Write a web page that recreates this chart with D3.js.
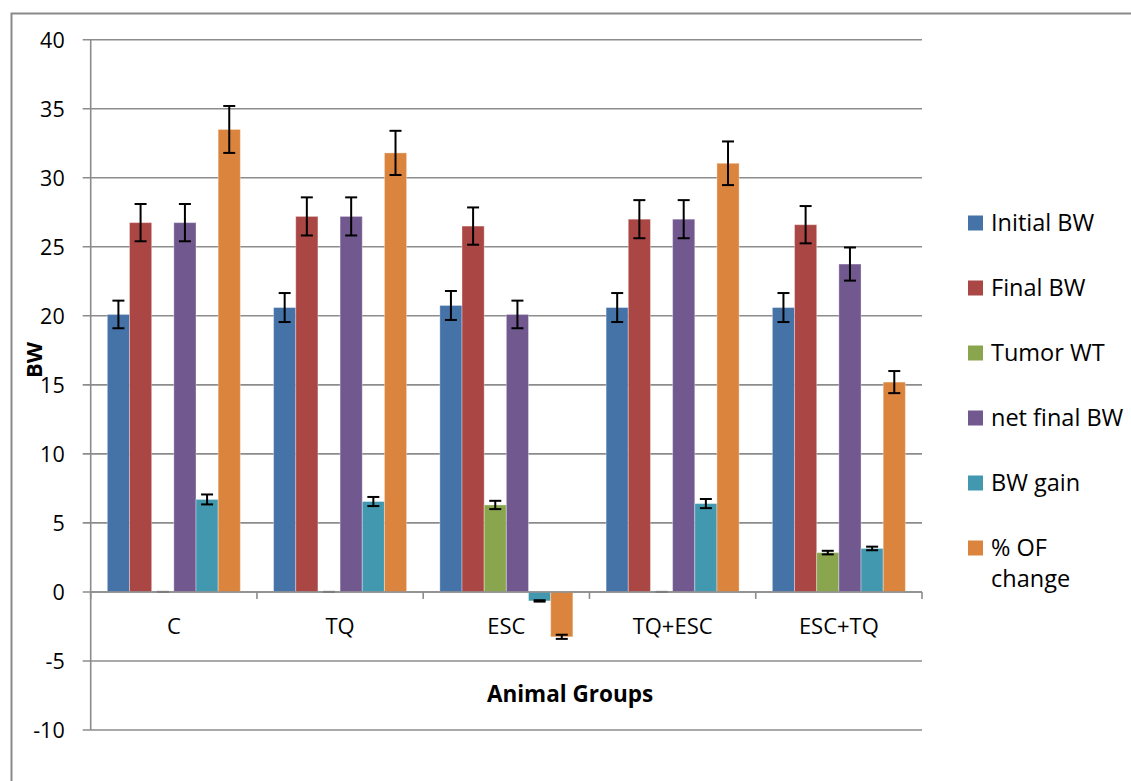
<!DOCTYPE html>
<html><head><meta charset="utf-8">
<script src="https://cdn.jsdelivr.net/npm/d3@7"></script>
<style>body{margin:0;background:#fff;} svg{display:block;}</style>
</head><body>
<svg id="chart" width="1131" height="781"></svg>
<script>
const categories = ["C", "TQ", "ESC", "TQ+ESC", "ESC+TQ"];
const seriesNames = ["Initial BW", "Final BW", "Tumor WT", "net final BW", "BW gain", "% OF change"];
const seriesColors = ["#4572A7", "#AA4643", "#89A54E", "#71588F", "#4198AF", "#DB843D"];
const initialBW  = [20.1, 20.6, 20.75, 20.6, 20.6];
const finalBW    = [26.75, 27.2, 26.5, 27.0, 26.6];
const tumorWT    = [0, 0, 6.3, 0, 2.85];
const netFinalBW = [26.75, 27.2, 20.1, 27.0, 23.75];
const bwGain     = [6.7, 6.55, -0.65, 6.4, 3.15];
const pctChange  = [33.5, 31.8, -3.25, 31.05, 15.2];
const initialErr  = [1.0, 1.05, 1.05, 1.05, 1.05];
const finalErr    = [1.35, 1.38, 1.35, 1.38, 1.35];
const tumorErr    = [0, 0, 0.3, 0, 0.13];
const netFinalErr = [1.35, 1.38, 1.0, 1.38, 1.2];
const bwGainErr   = [0.36, 0.33, 0.05, 0.33, 0.13];
const pctErr      = [1.7, 1.6, 0.15, 1.58, 0.8];
const yTicks = [-10, -5, 0, 5, 10, 15, 20, 25, 30, 35, 40];

const values = [initialBW, finalBW, tumorWT, netFinalBW, bwGain, pctChange];
const errors = [initialErr, finalErr, tumorErr, netFinalErr, bwGainErr, pctErr];

const svg = d3.select("#chart");
const FONT = "'Open Sans', sans-serif";
const gridColor = "#8c8c8c";

// outer chart border (cropped at right/bottom)
svg.append("path").attr("d", "M11.5,781 L11.5,13.5 L1131,13.5")
  .attr("fill", "none").attr("stroke", "#8a8a8a").attr("stroke-width", 2);

const pL = 90.7, pR = 922, pT = 39.7, pB = 730;
const y = d3.scaleLinear().domain([-10, 40]).range([pB, pT]);
const x0 = d3.scaleBand().domain(categories).range([pL, pR]).padding(0);
const x1 = d3.scaleBand().domain(seriesNames).range([0, x0.bandwidth()]).paddingInner(0).paddingOuter(0.75);

// gridlines
svg.append("g").selectAll("line").data(yTicks).join("line")
  .attr("x1", pL - 8).attr("x2", pR)
  .attr("y1", d => y(d)).attr("y2", d => y(d))
  .attr("stroke", gridColor).attr("stroke-width", 1.6);

// y axis
const yAxis = d3.axisLeft(y).tickValues(yTicks).tickSize(0).tickPadding(0).tickFormat(d => String(d));
const gy = svg.append("g").attr("transform", `translate(${pL},0)`).call(yAxis);
gy.select(".domain").remove();
gy.selectAll("text").attr("x", -26).attr("dy", "0.36em")
  .style("font-family", FONT).style("font-size", "21.5px").attr("fill", "#000");
svg.append("line").attr("x1", pL).attr("x2", pL).attr("y1", pT).attr("y2", pB)
  .attr("stroke", gridColor).attr("stroke-width", 1.6);

// bars
const groups = svg.append("g").selectAll("g").data(categories).join("g")
  .attr("transform", d => `translate(${x0(d)},0)`);
const barData = (c, ci) => seriesNames.map((s, si) => ({s, si, v: values[si][ci], e: errors[si][ci]}));
groups.each(function(c, ci) {
  const g = d3.select(this);
  const data = barData(c, ci);
  g.selectAll("rect").data(data.filter(d => d.v !== 0)).join("rect")
    .attr("x", d => x1(d.s))
    .attr("width", x1.bandwidth())
    .attr("y", d => Math.min(y(d.v), y(0)))
    .attr("height", d => Math.abs(y(d.v) - y(0)))
    .attr("fill", d => seriesColors[d.si])
    .attr("stroke", "rgba(255,255,255,0.35)").attr("stroke-width", 1);
});

// x axis line & ticks
svg.append("line").attr("x1", pL).attr("x2", pR).attr("y1", y(0)).attr("y2", y(0))
  .attr("stroke", gridColor).attr("stroke-width", 1.6);
const boundaries = categories.map(c => x0(c)).concat([pR]);
svg.append("g").selectAll("line").data(boundaries).join("line")
  .attr("x1", d => d).attr("x2", d => d).attr("y1", y(0)).attr("y2", y(0) + 7)
  .attr("stroke", gridColor).attr("stroke-width", 1.6);

// error bars
groups.each(function(c, ci) {
  const g = d3.select(this);
  const data = barData(c, ci);
  const cap = 6;
  const eb = g.append("g").selectAll("g").data(data).join("g")
    .attr("stroke", d => d.v === 0 ? "#555" : "#000").attr("stroke-width", 2);
  eb.append("line")
    .attr("x1", d => x1(d.s) + x1.bandwidth() / 2).attr("x2", d => x1(d.s) + x1.bandwidth() / 2)
    .attr("y1", d => y(d.v + d.e)).attr("y2", d => y(d.v - d.e));
  eb.append("line")
    .attr("x1", d => x1(d.s) + x1.bandwidth() / 2 - cap).attr("x2", d => x1(d.s) + x1.bandwidth() / 2 + cap)
    .attr("y1", d => y(d.v + d.e)).attr("y2", d => y(d.v + d.e));
  eb.append("line")
    .attr("x1", d => x1(d.s) + x1.bandwidth() / 2 - cap).attr("x2", d => x1(d.s) + x1.bandwidth() / 2 + cap)
    .attr("y1", d => y(d.v - d.e)).attr("y2", d => y(d.v - d.e));
});

// category labels
svg.append("g").selectAll("text").data(categories).join("text")
  .attr("x", d => x0(d) + x0.bandwidth() / 2).attr("y", 634)
  .attr("text-anchor", "middle")
  .style("font-family", FONT).style("font-size", "22px").text(d => d);

// axis titles
svg.append("text").attr("x", 570).attr("y", 702).attr("text-anchor", "middle")
  .style("font-family", FONT).style("font-size", "22.5px").style("font-weight", "bold").text("Animal Groups");
svg.append("text").attr("transform", "translate(42,360) rotate(-90)").attr("text-anchor", "middle")
  .style("font-family", FONT).style("font-size", "22px").style("font-weight", "bold").text("BW");

// legend
const legendLines = [["Initial BW"], ["Final BW"], ["Tumor WT"], ["net final BW"], ["BW gain"], ["% OF", "change"]];
const lg = svg.append("g").selectAll("g").data(seriesNames).join("g")
  .attr("transform", (d, i) => `translate(968,${223 + i * 65})`);
lg.append("rect").attr("x", 0).attr("y", -7.5).attr("width", 15).attr("height", 15)
  .attr("fill", (d, i) => seriesColors[i]);
lg.each(function(d, i) {
  const t = d3.select(this).append("text").attr("x", 23).attr("y", 0)
    .style("font-family", FONT).style("font-size", "23.5px");
  legendLines[i].forEach((ln, k) => {
    t.append("tspan").attr("x", 23).attr("dy", k === 0 ? "0.36em" : "31px").text(ln);
  });
});
</script>
</body></html>
